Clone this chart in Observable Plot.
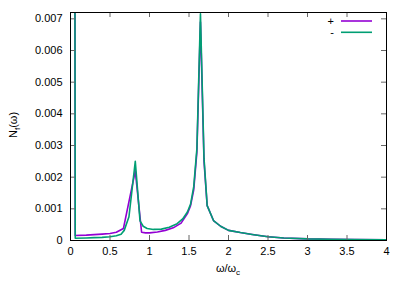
<!DOCTYPE html>
<html>
<head>
<meta charset="utf-8">
<script src="https://cdn.jsdelivr.net/npm/d3@7"></script>
<script src="https://cdn.jsdelivr.net/npm/@observablehq/plot@0.6"></script>
<style>
  html, body { margin: 0; padding: 0; background: #fff; }
  svg { display: block; font-family: "Liberation Sans", Arial, sans-serif; }
</style>
</head>
<body>
<div id="chart"></div>
<script>
// ---- data ----
const seriesNames = ["+", "-"];
const seriesColors = ["#9400d3", "#009e73"];

const xPlus = [0.035, 0.06, 0.2, 0.4, 0.5, 0.58, 0.67, 0.82, 0.9, 0.95, 1.0, 1.1, 1.2, 1.3, 1.4, 1.48, 1.52, 1.56, 1.6, 1.645, 1.69, 1.73, 1.81, 1.9, 2.0, 2.15, 2.3, 2.5, 2.7, 3.0, 3.3, 3.6, 4.0];
const yPlus = [0.05, 0.00016, 0.00017, 0.0002, 0.00022, 0.00026, 0.00038, 0.0022, 0.00026, 0.00024, 0.00024, 0.00027, 0.00032, 0.0004, 0.00055, 0.00085, 0.0011, 0.0016, 0.0028, 0.0069, 0.0025, 0.0011, 0.00063, 0.00045, 0.00032, 0.00025, 0.00019, 0.00012, 0.00008, 0.00005, 0.00004, 0.00003, 0.00002];

const xMinus = [0.035, 0.06, 0.2, 0.3, 0.4, 0.5, 0.58, 0.64, 0.68, 0.74, 0.82, 0.88, 0.92, 0.97, 1.05, 1.15, 1.25, 1.35, 1.42, 1.48, 1.52, 1.56, 1.6, 1.645, 1.69, 1.73, 1.81, 1.9, 2.0, 2.15, 2.3, 2.5, 2.7, 3.0, 3.3, 3.6, 4.0];
const yMinus = [0.05, 0.00007, 0.00008, 0.00009, 0.0001, 0.00012, 0.00015, 0.0002, 0.00032, 0.00075, 0.0025, 0.00062, 0.00045, 0.00038, 0.00035, 0.00036, 0.00042, 0.00053, 0.00068, 0.0009, 0.00115, 0.0017, 0.0029, 0.00716, 0.0026, 0.0011, 0.00063, 0.00045, 0.00032, 0.00025, 0.00019, 0.00012, 0.00008, 0.00005, 0.00004, 0.00003, 0.00002];

const xTicks = [0, 0.5, 1, 1.5, 2, 2.5, 3, 3.5, 4];
const xTickLabels = ["0", "0.5", "1", "1.5", "2", "2.5", "3", "3.5", "4"];
const yTicks = [0, 0.001, 0.002, 0.003, 0.004, 0.005, 0.006, 0.007];
const yTickLabels = ["0", "0.001", "0.002", "0.003", "0.004", "0.005", "0.006", "0.007"];

// ---- layout ----
const W = 412, H = 289;
const mL = 70, mR = 26, mT = 12, mB = 49;
const innerW = W - mL - mR, innerH = H - mT - mB;
const tickLen = 5;

const plusData = xPlus.map((x, i) => ({x, y: yPlus[i], s: seriesNames[0]}));
const minusData = xMinus.map((x, i) => ({x, y: yMinus[i], s: seriesNames[1]}));

const chart = Plot.plot({
  width: W, height: H,
  marginLeft: mL, marginRight: mR, marginTop: mT, marginBottom: mB,
  style: {fontFamily: '"Liberation Sans", Arial, sans-serif', fontSize: "11px", color: "#000", background: "#fff"},
  x: {domain: [0, 4]},
  y: {domain: [0, 0.0072]},
  marks: [
    Plot.line(plusData, {x: "x", y: "y", stroke: seriesColors[0], strokeWidth: 1.6, clip: true}),
    Plot.line(minusData, {x: "x", y: "y", stroke: seriesColors[1], strokeWidth: 1.6, clip: true}),
    Plot.tickX(xTicks, {x: d => d, insetTop: innerH - tickLen, stroke: "#666"}),
    Plot.tickX(xTicks, {x: d => d, insetBottom: innerH - tickLen, stroke: "#666"}),
    Plot.tickY(yTicks, {y: d => d, insetRight: innerW - tickLen, stroke: "#666"}),
    Plot.tickY(yTicks, {y: d => d, insetLeft: innerW - tickLen, stroke: "#666"}),
    Plot.frame({stroke: "#000", strokeWidth: 1}),
    Plot.axisX(xTicks, {tickSize: 0, tickPadding: 7, label: null, fontSize: 11,
      tickFormat: d => xTickLabels[xTicks.indexOf(d)]}),
    Plot.axisY(yTicks, {tickSize: 0, tickPadding: 8, label: null, fontSize: 11,
      tickFormat: d => yTickLabels[yTicks.indexOf(d)]})
  ]
});
document.getElementById("chart").appendChild(chart);

// ---- axis titles and key ----
const svg = d3.select(chart);
const xl = svg.append("text")
  .attr("x", 228).attr("y", 272)
  .attr("text-anchor", "middle")
  .attr("font-size", 11).attr("fill", "#000");
xl.append("tspan").text("ω/ω");
xl.append("tspan").attr("dy", 3).attr("font-size", 8).text("c");

const yl = svg.append("text")
  .attr("transform", "translate(17,125) rotate(-90)")
  .attr("text-anchor", "middle")
  .attr("font-size", 11).attr("fill", "#000");
yl.append("tspan").text("N");
yl.append("tspan").attr("dy", 3).attr("font-size", 8).text("f");
yl.append("tspan").attr("dy", -3).text("(ω)");

const key = svg.append("g");
seriesNames.forEach((name, i) => {
  const y = 21 + i * 11.3;
  key.append("text").attr("x", 334).attr("y", y + 4)
    .attr("text-anchor", "end").attr("font-size", 11).attr("fill", "#000").text(name);
  key.append("line").attr("x1", 341).attr("x2", 372).attr("y1", y).attr("y2", y)
    .attr("stroke", seriesColors[i]).attr("stroke-width", 1.6);
});
</script>
</body>
</html>
